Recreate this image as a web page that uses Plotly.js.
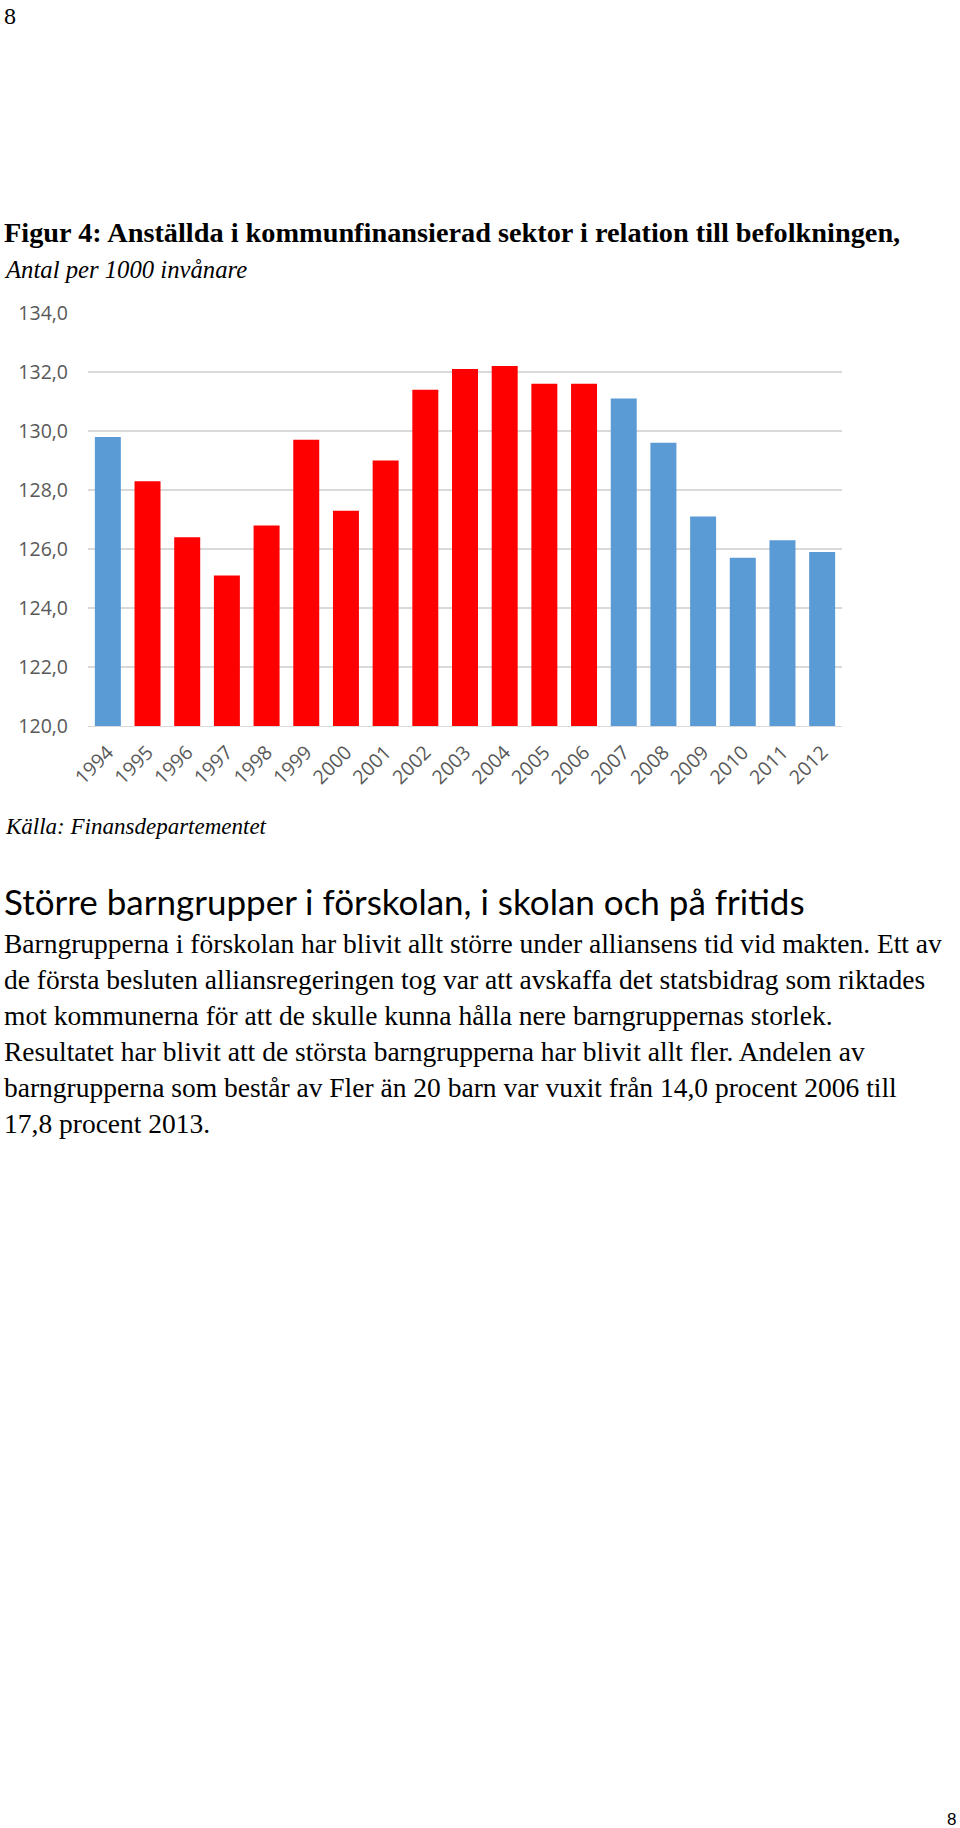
<!DOCTYPE html>
<html>
<head>
<meta charset="utf-8">
<script src="https://cdn.plot.ly/plotly-3.0.1.min.js"></script>
<style>
html,body{margin:0;padding:0;background:#fff;}
#chart{width:960px;height:1828px;}
</style>
</head>
<body>
<div id="chart"></div>
<script>
// ---- data ----
const years = ['1994','1995','1996','1997','1998','1999','2000','2001','2002','2003',
               '2004','2005','2006','2007','2008','2009','2010','2011','2012'];
const values = [129.8,128.3,126.4,125.1,126.8,129.7,127.3,129.0,131.4,132.1,
                132.2,131.6,131.6,131.1,129.6,127.1,125.7,126.3,125.9];
// governing bloc each year: 'B' = borgerlig/alliansen, 'S' = socialdemokratisk
const government = ['B','S','S','S','S','S','S','S','S','S',
                    'S','S','S','B','B','B','B','B','B'];
const yTicks = [120,122,124,126,128,130,132,134];

const pageNumber = '8';
const figTitle = 'Figur 4: Anställda i kommunfinansierad sektor i relation till befolkningen,';
const figSubtitle = 'Antal per 1000 invånare';
const sourceText = 'Källa: Finansdepartementet';
const heading = 'Större barngrupper i förskolan, i skolan och på fritids';
const paragraphLines = [
  'Barngrupperna i förskolan har blivit allt större under alliansens tid vid makten. Ett av',
  'de första besluten alliansregeringen tog var att avskaffa det statsbidrag som riktades',
  'mot kommunerna för att de skulle kunna hålla nere barngruppernas storlek.',
  'Resultatet har blivit att de största barngrupperna har blivit allt fler. Andelen av',
  'barngrupperna som består av Fler än 20 barn var vuxit från 14,0 procent 2006 till',
  '17,8 procent 2013.'
];

// ---- layout helpers ----
const W = 960, H = 1828;
const L = 88, R = 842, T = 312.7, B = 725.7;
const px = x => (x - L) / (R - L);
const py = y => (B - y) / (B - T);
const blocColor = {B: '#5B9BD5', S: '#FF0000'};

const serif = 'Liberation Serif, Times New Roman, serif';

// yMid = vertical centre of the annotation box, in page pixels
function textAnn(text, x, yMid, size, opts) {
  opts = opts || {};
  return Object.assign({
    text: text, xref: 'paper', yref: 'paper',
    x: px(x), y: py(yMid),
    xanchor: 'left', yanchor: 'middle', showarrow: false, borderpad: 0,
    font: {family: serif, size: size, color: '#000'}
  }, opts);
}

const annotations = [];
annotations.push(textAnn(pageNumber, 3, 16, 24));
annotations.push(textAnn('<b>' + figTitle + '</b>', 3, 232.5, 28.3));
annotations.push(textAnn('<i>' + figSubtitle + '</i>', 3, 269.5, 24.7));
annotations.push(textAnn('<i>' + sourceText + '</i>', 4, 826.5, 23));
annotations.push(textAnn(heading, 3, 901, 35, {font: {family: 'Lato, Open Sans, sans-serif', size: 35, color: '#000'}}));
const mids = [943, 979.5, 1015, 1051, 1087, 1123];
paragraphLines.forEach((ln, i) => annotations.push(textAnn(ln, 3, mids[i], 27.5)));
annotations.push({
  text: pageNumber, xref: 'paper', yref: 'paper', x: px(957), y: py(1819),
  xanchor: 'right', yanchor: 'middle', showarrow: false, borderpad: 0,
  font: {family: 'Liberation Sans, Arial, sans-serif', size: 17, color: '#000'}
});

const trace = {
  type: 'bar', x: years, y: values,
  marker: {color: government.map(g => blocColor[g]), line: {width: 0}},
  hoverinfo: 'x+y'
};

const layout = {
  width: W, height: H,
  margin: {l: L, r: W - R, t: T, b: H - B, pad: 0},
  paper_bgcolor: '#fff', plot_bgcolor: '#fff',
  separators: ', ',
  bargap: 0.345,
  showlegend: false,
  xaxis: {
    type: 'category', tickangle: -45, ticks: '', ticklabelstandoff: 6,
    tickfont: {family: 'Open Sans, sans-serif', size: 19.5, color: '#595959'},
    showline: true, linecolor: '#D9D9D9', linewidth: 1.3,
    showgrid: false, zeroline: false, fixedrange: true
  },
  yaxis: {
    range: [120, 134], tickvals: yTicks, tickformat: '.1f',
    tickfont: {family: 'Open Sans, sans-serif', size: 19.5, color: '#595959'},
    ticks: '', ticklabelstandoff: 19,
    showgrid: true, gridcolor: '#D9D9D9', gridwidth: 1.3,
    zeroline: false, showline: false, fixedrange: true
  },
  annotations: annotations
};

Plotly.newPlot('chart', [trace], layout, {displayModeBar: false, staticPlot: true});
</script>
</body>
</html>
